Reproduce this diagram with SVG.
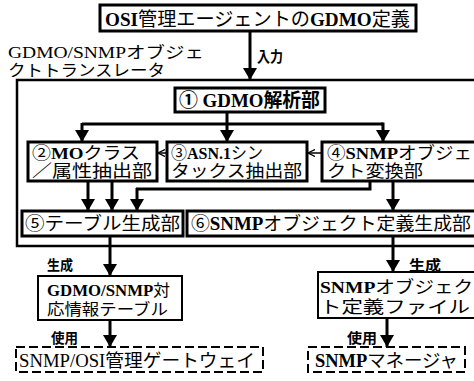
<svg xmlns="http://www.w3.org/2000/svg" width="474" height="381" viewBox="0 0 474 381">
<style>
.t{font-family:"Liberation Serif","Noto Sans CJK JP",serif;fill:#000}
.b{font-weight:bold}
.box{fill:#fff;stroke:#000;stroke-width:3}
.thin{fill:#fff;stroke:#000;stroke-width:2}
.dash{fill:none;stroke:#000;stroke-width:2;stroke-dasharray:9 4}
.ln{fill:none;stroke:#000;stroke-width:3}
.ar{fill:none;stroke:#000;stroke-width:3;marker-end:url(#ah)}
.sa{fill:none;stroke:#000;stroke-width:1.5;marker-end:url(#sh)}
</style>
<defs>
<marker id="ah" viewBox="0 0 12 14" refX="12" refY="7" markerWidth="12" markerHeight="14" markerUnits="userSpaceOnUse" orient="auto">
<path d="M0,0 L12,7 L0,14 Z" fill="#000"/>
</marker>
<marker id="sh" viewBox="0 0 8 8" refX="8" refY="4" markerWidth="7" markerHeight="8" markerUnits="userSpaceOnUse" orient="auto">
<path d="M0,0 L8,4 L0,8" fill="none" stroke="#000" stroke-width="1.5"/>
</marker>
</defs>
<rect width="474" height="381" fill="#fff"/>

<g id="translator">
<rect x="17" y="80" width="470" height="166" fill="none" stroke="#000" stroke-width="2.5"/>
<text class="t" x="8" y="58" font-size="16" textLength="196" lengthAdjust="spacingAndGlyphs">GDMO/SNMPオブジェ</text>
<text class="t" x="8" y="76" font-size="16" textLength="157" lengthAdjust="spacingAndGlyphs">クトトランスレータ</text>
</g>

<g id="connectors">
<line class="ar" x1="250" y1="31" x2="250" y2="80"/>
<text class="t b" x="257" y="62" font-size="15" textLength="26" lengthAdjust="spacingAndGlyphs">入力</text>
<polyline class="ln" points="82,124 383,124"/>
<line class="ln" x1="227" y1="112" x2="227" y2="124"/>
<line class="ar" x1="82" y1="123" x2="82" y2="142"/>
<line class="ar" x1="227" y1="124" x2="227" y2="142"/>
<polyline class="ar" points="381,124 383,124 383,142"/>
<line class="sa" x1="167" y1="153" x2="158" y2="153"/>
<line class="sa" x1="322" y1="153" x2="308" y2="153"/>
<line class="ar" x1="88" y1="181" x2="88" y2="211"/>
<line class="ar" x1="112" y1="181" x2="112" y2="211"/>
<polyline class="ln" points="370,181 370,189 136,189"/>
<line class="ar" x1="137" y1="188" x2="137" y2="211"/>
<line class="ar" x1="393" y1="181" x2="393" y2="211"/>
<line class="ar" x1="110" y1="236" x2="110" y2="276"/>
<text class="t b" x="47" y="270" font-size="14" textLength="26" lengthAdjust="spacingAndGlyphs">生成</text>
<line class="ar" x1="393" y1="236" x2="393" y2="272"/>
<text class="t b" x="409" y="270" font-size="14" textLength="32" lengthAdjust="spacingAndGlyphs">生成</text>
<line class="ar" x1="110" y1="320" x2="110" y2="347"/>
<text class="t b" x="51" y="343" font-size="14" textLength="27" lengthAdjust="spacingAndGlyphs">使用</text>
<line class="ar" x1="387" y1="318" x2="387" y2="347"/>
<text class="t b" x="347" y="343" font-size="14" textLength="30" lengthAdjust="spacingAndGlyphs">使用</text>
</g>

<g id="gdmo-def">
<rect class="box" x="100" y="5" width="316" height="26"/>
<text class="t" x="105" y="26" font-size="19" textLength="305" lengthAdjust="spacingAndGlyphs"><tspan class="b">OSI</tspan>管理エージェントの<tspan class="b">GDMO</tspan>定義</text>
</g>

<g id="n1">
<rect class="box" x="175" y="88" width="150" height="24"/>
<text class="t b" x="179" y="107" font-size="19" textLength="141" lengthAdjust="spacingAndGlyphs">① GDMO解析部</text>
</g>

<g id="n2">
<rect class="box" x="28" y="142" width="129" height="39"/>
<text class="t" x="32" y="159" font-size="17" textLength="108" lengthAdjust="spacingAndGlyphs">②<tspan class="b">MO</tspan>クラス</text>
<text class="t" x="32" y="177" font-size="17" textLength="120" lengthAdjust="spacingAndGlyphs">／属性抽出部</text>
</g>

<g id="n3">
<rect class="box" x="167" y="142" width="140" height="39"/>
<text class="t" x="171" y="159" font-size="17" textLength="92" lengthAdjust="spacingAndGlyphs">③<tspan class="b">ASN.1</tspan>シン</text>
<text class="t" x="171" y="177" font-size="17" textLength="131" lengthAdjust="spacingAndGlyphs">タックス抽出部</text>
</g>

<g id="n4">
<rect class="box" x="322" y="142" width="160" height="39"/>
<text class="t" x="327" y="159" font-size="17" textLength="145" lengthAdjust="spacingAndGlyphs">④<tspan class="b">SNMP</tspan>オブジェ</text>
<text class="t" x="327" y="177" font-size="17" textLength="96" lengthAdjust="spacingAndGlyphs">クト変換部</text>
</g>

<g id="n5">
<rect class="box" x="22" y="211" width="161" height="25"/>
<text class="t" x="25" y="230" font-size="18" textLength="155" lengthAdjust="spacingAndGlyphs">⑤テーブル生成部</text>
</g>

<g id="n6">
<rect class="box" x="187" y="211" width="295" height="25"/>
<text class="t" x="191" y="230" font-size="18" textLength="280" lengthAdjust="spacingAndGlyphs">⑥<tspan class="b">SNMP</tspan>オブジェクト定義生成部</text>
</g>

<g id="table">
<rect class="thin" x="38" y="276" width="144" height="44"/>
<text class="t" x="47" y="296" font-size="16" textLength="123" lengthAdjust="spacingAndGlyphs"><tspan class="b">GDMO/SNMP</tspan>対</text>
<text class="t" x="47" y="315" font-size="16" textLength="121" lengthAdjust="spacingAndGlyphs">応情報テーブル</text>
</g>

<g id="deffile">
<rect class="thin" x="318" y="272" width="164" height="46"/>
<text class="t" x="320" y="293" font-size="17" textLength="153" lengthAdjust="spacingAndGlyphs"><tspan class="b">SNMP</tspan>オブジェク</text>
<text class="t" x="320" y="313" font-size="17" textLength="150" lengthAdjust="spacingAndGlyphs">ト定義ファイル</text>
</g>

<g id="gateway">
<rect class="dash" x="16" y="347" width="247" height="25"/>
<text class="t" x="19" y="367" font-size="18" textLength="236" lengthAdjust="spacingAndGlyphs">SNMP/OSI管理ゲートウェイ</text>
</g>

<g id="manager">
<rect class="dash" x="308" y="347" width="157" height="25"/>
<text class="t" x="315" y="367" font-size="18" textLength="143" lengthAdjust="spacingAndGlyphs"><tspan class="b">SNMP</tspan>マネージャ</text>
</g>
</svg>
